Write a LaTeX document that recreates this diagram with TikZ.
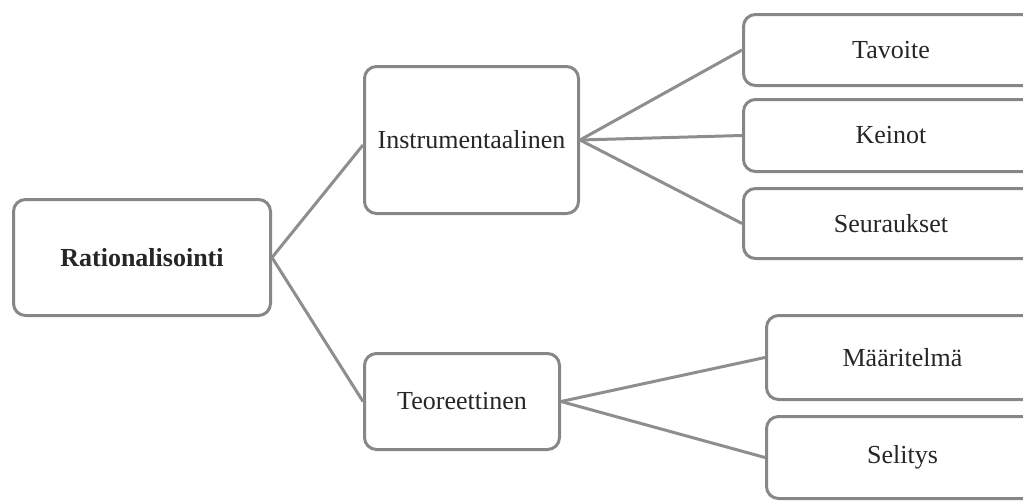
\documentclass[tikz,border=0pt]{standalone}
\usepackage{fontspec}
\setmainfont{Liberation Serif}
\usepackage{xcolor}
\usepackage{tikz}
\usetikzlibrary{positioning}

\definecolor{edgegray}{HTML}{878787}
\definecolor{linegray}{HTML}{8E8E8E}

\begin{document}
\begin{tikzpicture}[
  x=1pt, y=-1pt,
  every node/.style={font=\fontsize{26}{30}\selectfont, text=black!85},
  box/.style={draw=edgegray, line width=3pt, rounded corners=12pt, fill=white, inner sep=0pt, align=center},
  link/.style={draw=linegray, line width=3pt}
]
\useasboundingbox (0,0) rectangle (1023,501);
\clip (0,0) rectangle (1023,501);

\node[box, minimum width=257pt, minimum height=116pt, font=\fontsize{26}{30}\selectfont\bfseries] (rat) at (142,257.5) {Rationalisointi};
\node[box, minimum width=214pt, minimum height=147pt] (inst) at (471.5,140) {Instrumentaalinen};
\node[box, minimum width=195pt, minimum height=96pt] (teo) at (462,401.5) {Teoreettinen};

\node[box, minimum width=295pt, minimum height=71pt] (tav) at (891,50) {Tavoite};
\node[box, minimum width=295pt, minimum height=72pt] (kei) at (891,135.5) {Keinot};
\node[box, minimum width=295pt, minimum height=70pt] (seu) at (891,223.5) {Seuraukset};
\node[box, minimum width=272pt, minimum height=84pt] (maa) at (902.5,357.5) {Määritelmä};
\node[box, minimum width=272pt, minimum height=82pt] (sel) at (902.5,457.5) {Selitys};

\draw[link] (rat.east) -- ([yshift=-5pt]inst.west);
\draw[link] (rat.east) -- (teo.west);
\draw[link] (inst.east) -- (tav.west);
\draw[link] (inst.east) -- (kei.west);
\draw[link] (inst.east) -- (seu.west);
\draw[link] (teo.east) -- (maa.west);
\draw[link] (teo.east) -- (sel.west);
\end{tikzpicture}
\end{document}
